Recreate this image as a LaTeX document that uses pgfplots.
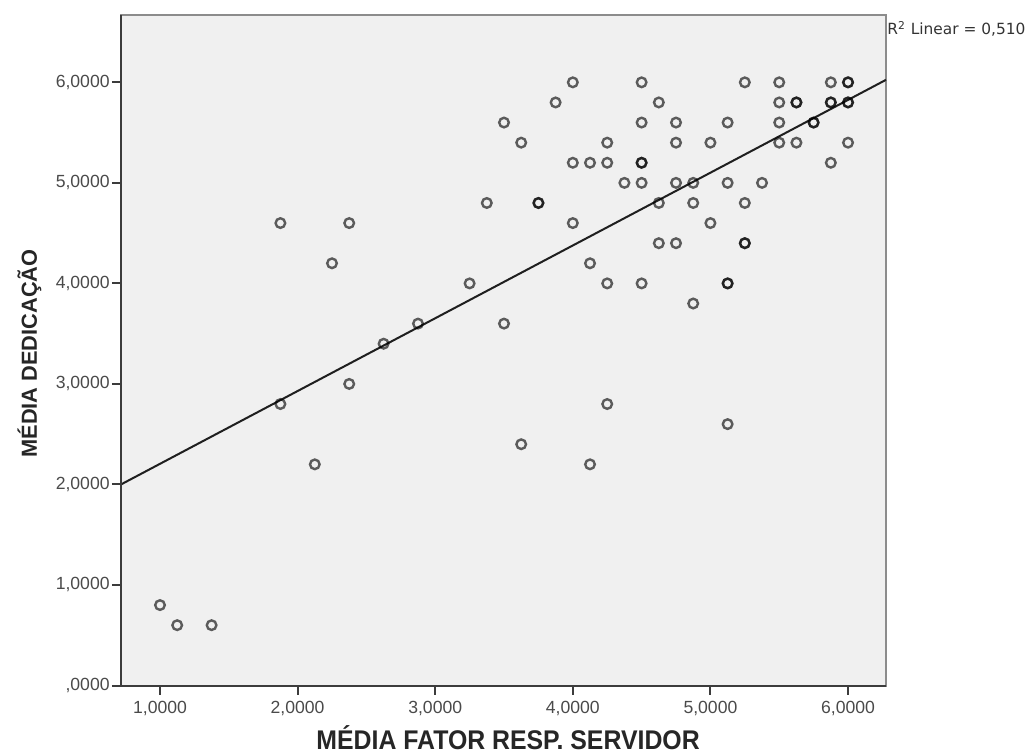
\documentclass[border=0pt]{standalone}
\usepackage{pgfplots}
\pgfplotsset{compat=1.18}
\usepackage{fontspec}
\setmainfont{Liberation Sans}
\newfontfamily\xlabfont[FakeStretch=0.92]{Liberation Sans}
\newfontfamily\rfont{DejaVu Sans}

\definecolor{plotbg}{HTML}{F0F0F0}
\definecolor{ticktext}{HTML}{4A4A4A}
\definecolor{darkframe}{HTML}{3C3C3C}
\definecolor{lightframe}{HTML}{8C8C8C}

\begin{document}
\begin{tikzpicture}
\begin{axis}[
    scale only axis,
    width=382.5pt,
    height=335.25pt,
    xmin=0.7166, xmax=6.276,
    ymin=0, ymax=6.67,
    axis background/.style={fill=plotbg},
    axis line style={draw=lightframe, line width=1pt},
    clip=false,
    xtick={1,2,3,4,5,6},
    xticklabels={{1,0000},{2,0000},{3,0000},{4,0000},{5,0000},{6,0000}},
    ytick={0,1,2,3,4,5,6},
    yticklabels={{,0000},{1,0000},{2,0000},{3,0000},{4,0000},{5,0000},{6,0000}},
    tick align=outside,
    xtick pos=bottom,
    ytick pos=left,
    major tick length=4.5pt,
    tick style={draw=darkframe, line width=1pt},
    ticklabel style={font=\fontsize{8.8}{9}\selectfont, text=ticktext, inner sep=0pt},
    xticklabel style={anchor=north, yshift=-3pt},
    yticklabel style={anchor=east, xshift=-1pt},
    xlabel={\xlabfont\bfseries MÉDIA FATOR RESP. SERVIDOR},
    ylabel={\bfseries MÉDIA DEDICAÇÃO},
    xlabel style={font=\fontsize{13.5}{14}\selectfont, anchor=base, at={(axis description cs:0.506,-0.0955)}, inner sep=0pt, text=black!85},
    ylabel style={font=\fontsize{10.9}{12}\selectfont, anchor=base, at={(axis description cs:-0.1098,0.4952)}, inner sep=0pt, text=black!85},
]
% single and repeated cases (repeats drawn twice so they look darker)
\addplot[only marks, mark=o, mark size=2.4pt,
    mark options={draw=black, draw opacity=0.62, line width=1.2pt}]
coordinates {
    (1.0,0.8) (1.125,0.6) (1.375,0.6)
    (1.875,4.6) (1.875,2.8) (2.125,2.2) (2.25,4.2)
    (2.375,4.6) (2.375,3.0) (2.625,3.4) (2.875,3.6)
    (3.25,4.0) (3.375,4.8) (3.5,5.6) (3.5,3.6)
    (3.625,5.4) (3.625,2.4) (3.75,4.8) (3.75,4.8) (3.875,5.8)
    (4.0,6.0) (4.0,5.2) (4.0,4.6)
    (4.125,5.2) (4.125,4.2) (4.125,2.2)
    (4.25,5.4) (4.25,5.2) (4.25,4.0) (4.25,2.8)
    (4.375,5.0)
    (4.5,6.0) (4.5,5.6) (4.5,5.2) (4.5,5.2) (4.5,5.0) (4.5,4.0)
    (4.625,5.8) (4.625,4.8) (4.625,4.4)
    (4.75,5.6) (4.75,5.4) (4.75,5.0) (4.75,4.4)
    (4.875,5.0) (4.875,4.8) (4.875,3.8)
    (5.0,5.4) (5.0,4.6)
    (5.125,5.6) (5.125,5.0) (5.125,4.0) (5.125,4.0) (5.125,2.6)
    (5.25,6.0) (5.25,4.8) (5.25,4.4) (5.25,4.4)
    (5.375,5.0)
    (5.5,6.0) (5.5,5.8) (5.5,5.6) (5.5,5.4)
    (5.625,5.8) (5.625,5.8) (5.625,5.4)
    (5.75,5.6) (5.75,5.6)
    (5.875,6.0) (5.875,5.8) (5.875,5.8) (5.875,5.2)
    (6.0,6.0) (6.0,6.0) (6.0,5.8) (6.0,5.8) (6.0,5.4)
};
% fit line
\addplot[draw=black!88, line width=1pt] coordinates {(0.7166,2.0) (6.276,6.025)};
% darker left and bottom frame
\draw[darkframe, line width=1pt] (rel axis cs:0,1) -- (rel axis cs:0,0) -- (rel axis cs:1,0);
\node[anchor=base west, inner sep=0pt, font=\rfont\fontsize{7.7}{8}\selectfont, text=black!80]
    at ([xshift=0.5pt,yshift=-10pt]rel axis cs:1,1) {R\textsuperscript{2} Linear = 0,510};
\end{axis}
\pgfresetboundingbox
\path ([xshift=-60.5pt,yshift=-34.25pt]current axis.south west) rectangle ([xshift=72.5pt,yshift=7.5pt]current axis.north east);
\end{tikzpicture}
\end{document}
